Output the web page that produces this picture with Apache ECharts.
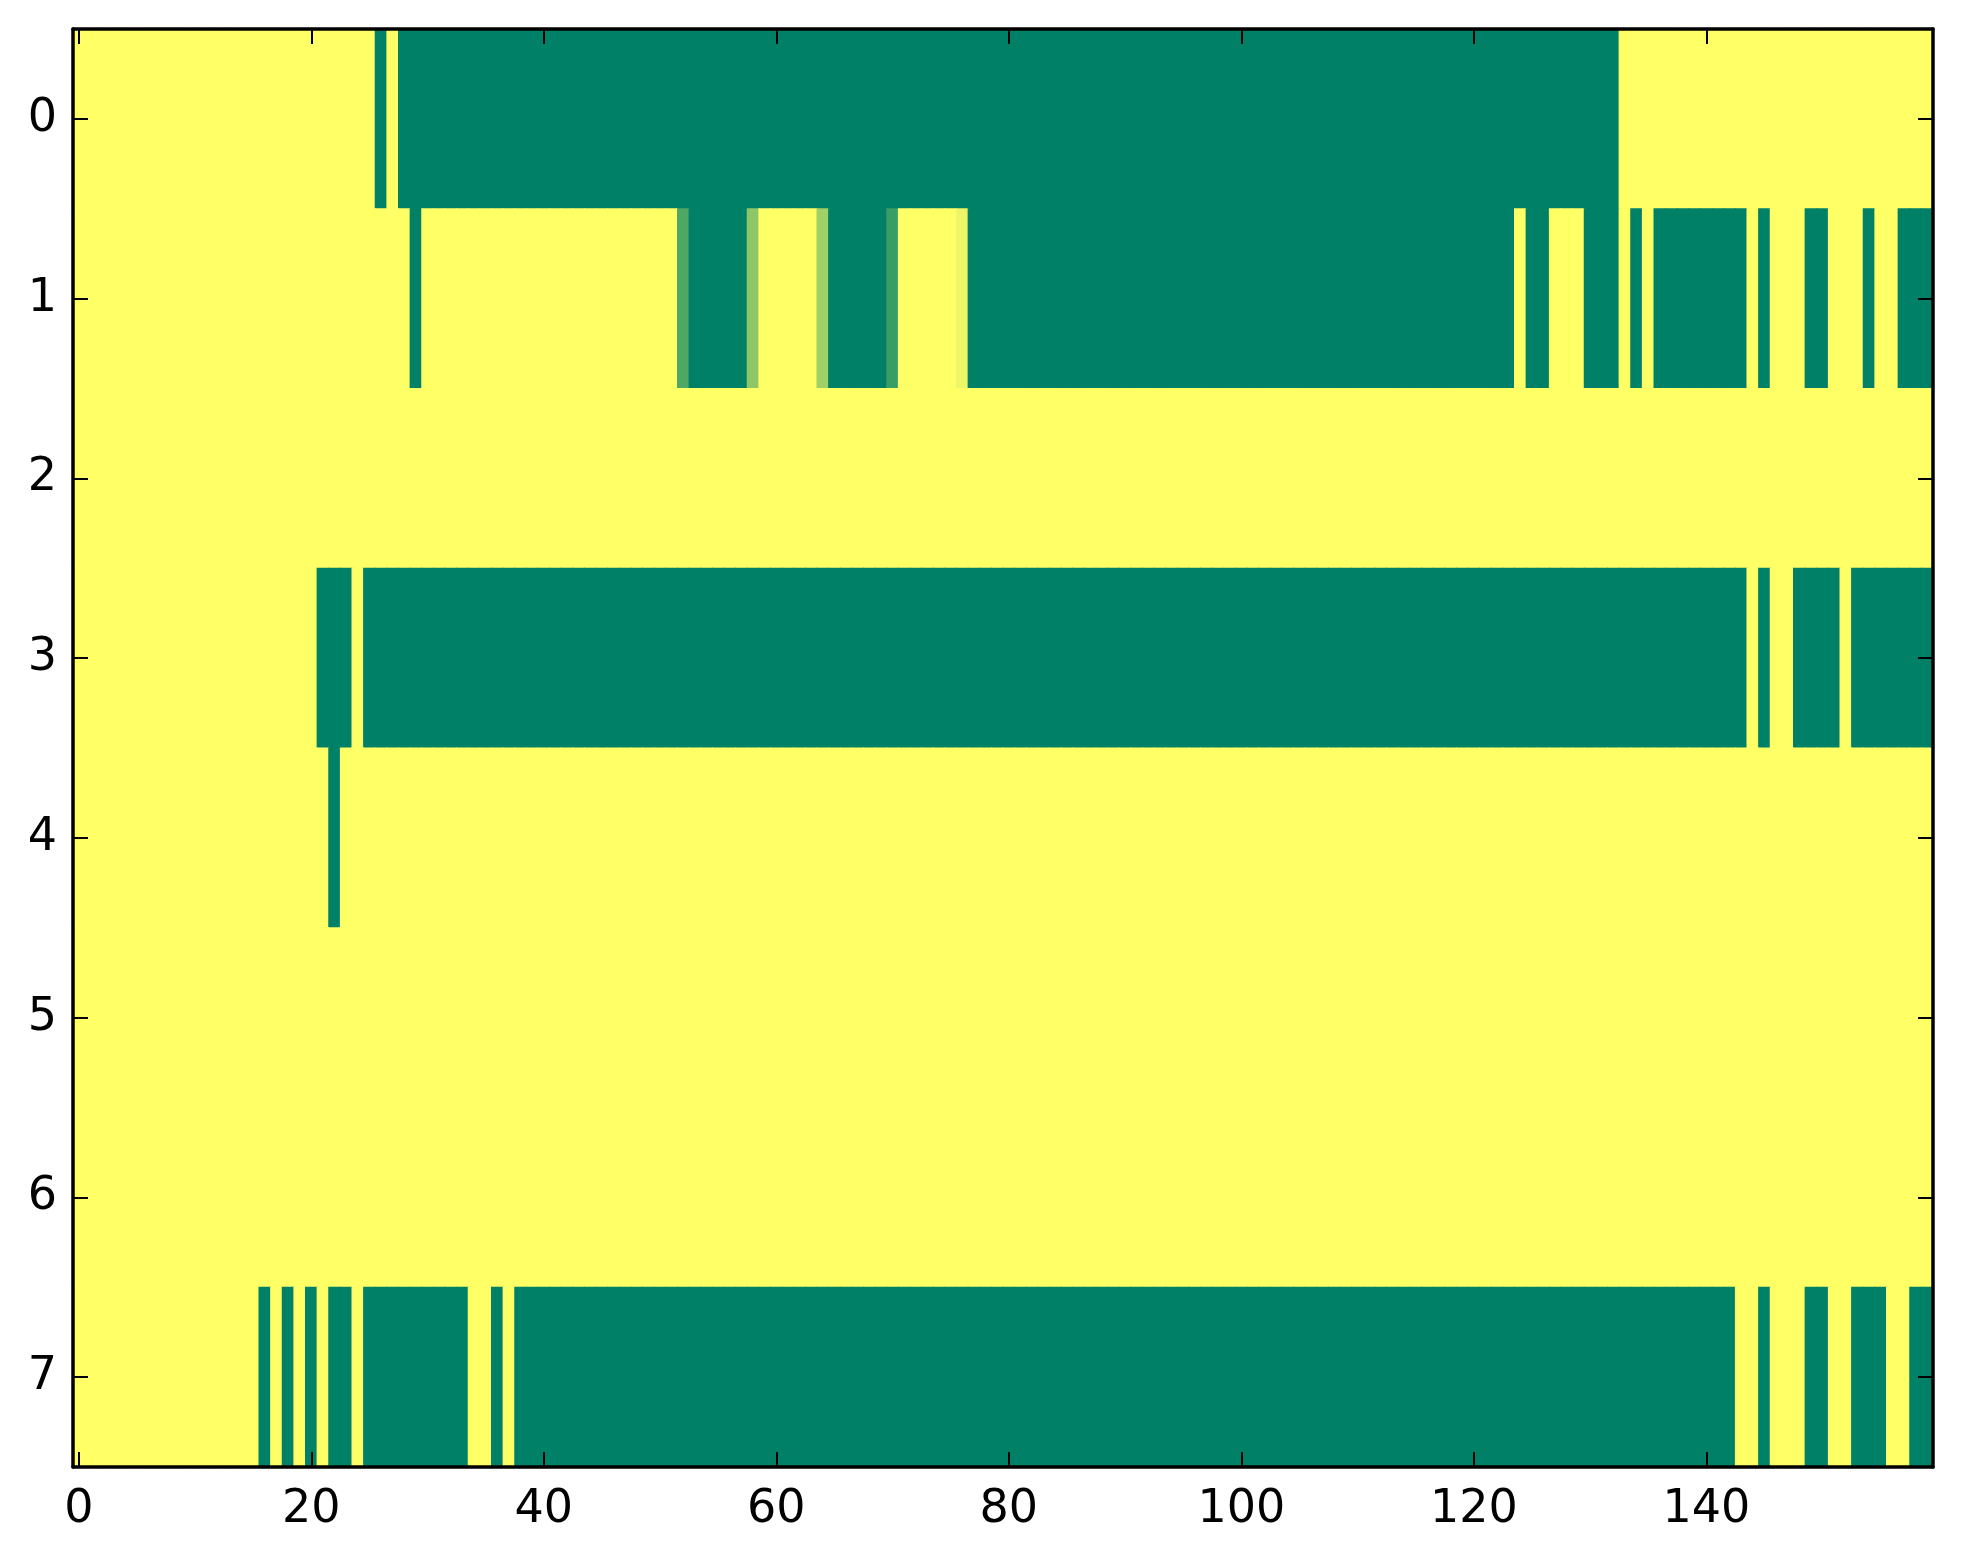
<!DOCTYPE html>
<html>
<head>
<meta charset="utf-8">
<script src="https://cdn.jsdelivr.net/npm/echarts@6/dist/echarts.min.js"></script>
<style>
html,body{margin:0;padding:0;background:#fff;}
#chart{width:1963px;height:1564px;}
</style>
</head>
<body>
<div id="chart"></div>
<script>
// Tick labels
const xTickLabels = ['0','20','40','60','80','100','120','140'];
const yTickLabels = ['0','1','2','3','4','5','6','7'];

// Row values (160 columns each), 0 = green, 1 = yellow
const row0 = [
1,1,1,1,1,1,1,1,1,1,1,1,1,1,1,1,1,1,1,1,
1,1,1,1,1,1,0,1,0,0,0,0,0,0,0,0,0,0,0,0,
0,0,0,0,0,0,0,0,0,0,0,0,0,0,0,0,0,0,0,0,
0,0,0,0,0,0,0,0,0,0,0,0,0,0,0,0,0,0,0,0,
0,0,0,0,0,0,0,0,0,0,0,0,0,0,0,0,0,0,0,0,
0,0,0,0,0,0,0,0,0,0,0,0,0,0,0,0,0,0,0,0,
0,0,0,0,0,0,0,0,0,0,0,0,0,1,1,1,1,1,1,1,
1,1,1,1,1,1,1,1,1,1,1,1,1,1,1,1,1,1,1,1];
const row1 = [
1,1,1,1,1,1,1,1,1,1,1,1,1,1,1,1,1,1,1,1,
1,1,1,1,1,1,1,1,1,0,1,1,1,1,1,1,1,1,1,1,
1,1,1,1,1,1,1,1,1,1,1,1,0.31,0,0,0,0,0,0.55,1,
1,1,1,1,0.63,0,0,0,0,0,0.23,1,1,1,1,1,0.93,0,0,0,
0,0,0,0,0,0,0,0,0,0,0,0,0,0,0,0,0,0,0,0,
0,0,0,0,0,0,0,0,0,0,0,0,0,0,0,0,0,0,0,0,
0,0,0,0,1,0,0,1,1,1,0,0,0,1,0,1,0,0,0,0,
0,0,0,0,1,0,1,1,1,0,0,1,1,1,0,1,1,0,0,0];
const row2 = [
1,1,1,1,1,1,1,1,1,1,1,1,1,1,1,1,1,1,1,1,
1,1,1,1,1,1,1,1,1,1,1,1,1,1,1,1,1,1,1,1,
1,1,1,1,1,1,1,1,1,1,1,1,1,1,1,1,1,1,1,1,
1,1,1,1,1,1,1,1,1,1,1,1,1,1,1,1,1,1,1,1,
1,1,1,1,1,1,1,1,1,1,1,1,1,1,1,1,1,1,1,1,
1,1,1,1,1,1,1,1,1,1,1,1,1,1,1,1,1,1,1,1,
1,1,1,1,1,1,1,1,1,1,1,1,1,1,1,1,1,1,1,1,
1,1,1,1,1,1,1,1,1,1,1,1,1,1,1,1,1,1,1,1];
const row3 = [
1,1,1,1,1,1,1,1,1,1,1,1,1,1,1,1,1,1,1,1,
1,0,0,0,1,0,0,0,0,0,0,0,0,0,0,0,0,0,0,0,
0,0,0,0,0,0,0,0,0,0,0,0,0,0,0,0,0,0,0,0,
0,0,0,0,0,0,0,0,0,0,0,0,0,0,0,0,0,0,0,0,
0,0,0,0,0,0,0,0,0,0,0,0,0,0,0,0,0,0,0,0,
0,0,0,0,0,0,0,0,0,0,0,0,0,0,0,0,0,0,0,0,
0,0,0,0,0,0,0,0,0,0,0,0,0,0,0,0,0,0,0,0,
0,0,0,0,1,0,1,1,0,0,0,0,1,0,0,0,0,0,0,0];
const row4 = [
1,1,1,1,1,1,1,1,1,1,1,1,1,1,1,1,1,1,1,1,
1,1,0,1,1,1,1,1,1,1,1,1,1,1,1,1,1,1,1,1,
1,1,1,1,1,1,1,1,1,1,1,1,1,1,1,1,1,1,1,1,
1,1,1,1,1,1,1,1,1,1,1,1,1,1,1,1,1,1,1,1,
1,1,1,1,1,1,1,1,1,1,1,1,1,1,1,1,1,1,1,1,
1,1,1,1,1,1,1,1,1,1,1,1,1,1,1,1,1,1,1,1,
1,1,1,1,1,1,1,1,1,1,1,1,1,1,1,1,1,1,1,1,
1,1,1,1,1,1,1,1,1,1,1,1,1,1,1,1,1,1,1,1];
const row5 = [
1,1,1,1,1,1,1,1,1,1,1,1,1,1,1,1,1,1,1,1,
1,1,1,1,1,1,1,1,1,1,1,1,1,1,1,1,1,1,1,1,
1,1,1,1,1,1,1,1,1,1,1,1,1,1,1,1,1,1,1,1,
1,1,1,1,1,1,1,1,1,1,1,1,1,1,1,1,1,1,1,1,
1,1,1,1,1,1,1,1,1,1,1,1,1,1,1,1,1,1,1,1,
1,1,1,1,1,1,1,1,1,1,1,1,1,1,1,1,1,1,1,1,
1,1,1,1,1,1,1,1,1,1,1,1,1,1,1,1,1,1,1,1,
1,1,1,1,1,1,1,1,1,1,1,1,1,1,1,1,1,1,1,1];
const row6 = [
1,1,1,1,1,1,1,1,1,1,1,1,1,1,1,1,1,1,1,1,
1,1,1,1,1,1,1,1,1,1,1,1,1,1,1,1,1,1,1,1,
1,1,1,1,1,1,1,1,1,1,1,1,1,1,1,1,1,1,1,1,
1,1,1,1,1,1,1,1,1,1,1,1,1,1,1,1,1,1,1,1,
1,1,1,1,1,1,1,1,1,1,1,1,1,1,1,1,1,1,1,1,
1,1,1,1,1,1,1,1,1,1,1,1,1,1,1,1,1,1,1,1,
1,1,1,1,1,1,1,1,1,1,1,1,1,1,1,1,1,1,1,1,
1,1,1,1,1,1,1,1,1,1,1,1,1,1,1,1,1,1,1,1];
const row7 = [
1,1,1,1,1,1,1,1,1,1,1,1,1,1,1,1,0,1,0,1,
0,1,0,0,1,0,0,0,0,0,0,0,0,0,1,1,0,1,0,0,
0,0,0,0,0,0,0,0,0,0,0,0,0,0,0,0,0,0,0,0,
0,0,0,0,0,0,0,0,0,0,0,0,0,0,0,0,0,0,0,0,
0,0,0,0,0,0,0,0,0,0,0,0,0,0,0,0,0,0,0,0,
0,0,0,0,0,0,0,0,0,0,0,0,0,0,0,0,0,0,0,0,
0,0,0,0,0,0,0,0,0,0,0,0,0,0,0,0,0,0,0,0,
0,0,0,1,1,0,1,1,1,0,0,1,1,0,0,0,1,1,0,0];

const rows = [row0,row1,row2,row3,row4,row5,row6,row7];
const nCols = row0.length;
const xCats = Array.from({length:nCols}, (_, i) => String(i));

const data = [];
rows.forEach((r, y) => r.forEach((v, x) => data.push([x, y, v])));

const showX = (i) => xTickLabels.indexOf(xCats[i]) >= 0;

const font = {fontSize: 46, color: '#000', fontFamily: 'DejaVu Sans'};
const lineStyle = {color: '#000', width: 3.5};
const tickStyle = {color: '#000', width: 2};

function xAx(pos, labels) {
  return {
    type: 'category', data: xCats, position: pos, boundaryGap: true, z: 10,
    axisLine: {show: true, onZero: false, lineStyle},
    axisTick: {show: true, inside: true, length: 15, alignWithLabel: true, interval: (i) => showX(i), lineStyle: tickStyle},
    axisLabel: Object.assign({show: labels, interval: (i) => showX(i), margin: 20}, font),
    splitLine: {show: false}
  };
}
function yAx(pos, labels) {
  return {
    type: 'category', data: yTickLabels, position: pos, inverse: true, boundaryGap: true, z: 10,
    axisLine: {show: true, onZero: false, lineStyle},
    axisTick: {show: true, inside: true, length: 15, alignWithLabel: true, interval: 0, lineStyle: tickStyle},
    axisLabel: Object.assign({show: labels, interval: 0, margin: 16}, font),
    splitLine: {show: false}
  };
}

const chart = echarts.init(document.getElementById('chart'), null, {renderer: 'canvas'});
chart.setOption({
  animation: false,
  backgroundColor: '#fff',
  grid: {left: 73, top: 29, width: 1860, height: 1438, containLabel: false},
  xAxis: [xAx('bottom', true), xAx('top', false)],
  yAxis: [yAx('left', true), yAx('right', false)],
  visualMap: {
    type: 'continuous', show: false, min: 0, max: 1, dimension: 2, seriesIndex: 0,
    inRange: {color: ['#008066', '#ffff66']}
  },
  series: [{
    type: 'custom', coordinateSystem: 'cartesian2d', xAxisIndex: 0, yAxisIndex: 0,
    data: data,
    encode: {x: 0, y: 1},
    clip: true,
    renderItem: function (params, api) {
      const c = api.coord([api.value(0), api.value(1)]);
      const s = api.size([1, 1]);
      const color = api.visual('color');
      return {
        type: 'rect',
        shape: {x: c[0] - s[0] / 2 - 0.5, y: c[1] - s[1] / 2 - 0.5, width: s[0] + 1, height: s[1] + 1},
        style: {fill: color, stroke: null},
        silent: true
      };
    }
  }]
});
</script>
</body>
</html>
